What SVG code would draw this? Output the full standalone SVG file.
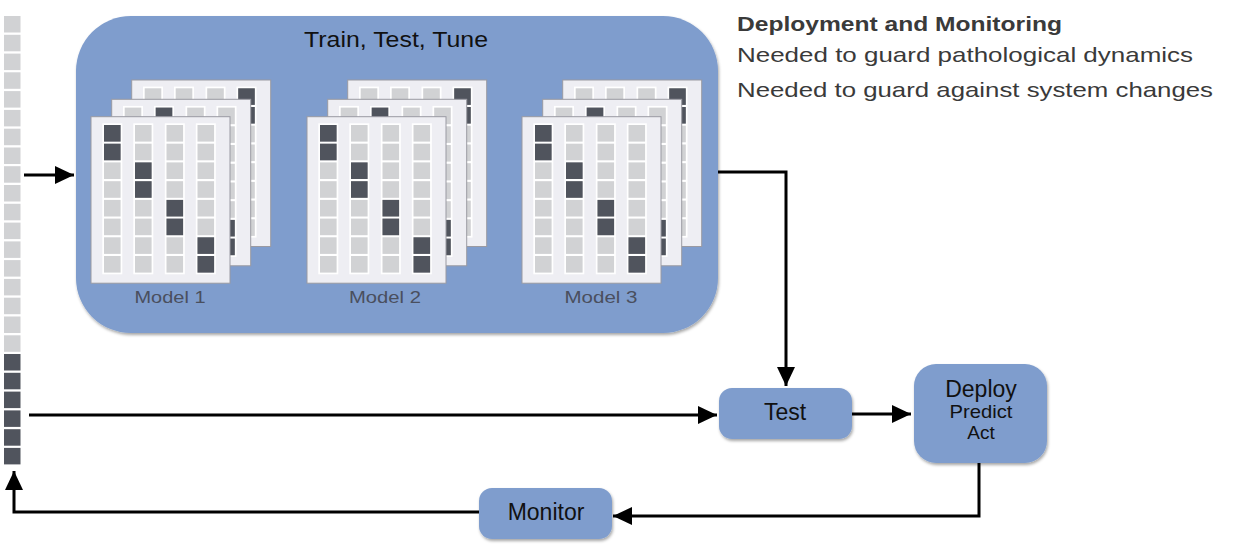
<svg xmlns="http://www.w3.org/2000/svg" xmlns:xlink="http://www.w3.org/1999/xlink" width="1233" height="550" viewBox="0 0 1233 550">
<style>
.box{fill:#7F9DCD;}
.card{fill:#EEEEF3;stroke:#9A9AA2;stroke-width:1;}
.col{fill:#FFFFFF;}
.cg{fill:#D1D2D4;}
.cd{fill:#50545D;}
.conn{fill:none;stroke:#000;stroke-width:3;}
.t{font-family:"Liberation Sans",Arial,sans-serif;fill:#111;}
.lbl{font-family:"Liberation Sans",Arial,sans-serif;fill:#4A4F5E;font-size:17px;}
.side{font-family:"Liberation Sans",Arial,sans-serif;fill:#3A3A3A;font-size:21px;}
</style>
<defs>
<filter id="sh" x="-10%" y="-10%" width="120%" height="130%">
<feDropShadow dx="1" dy="2" stdDeviation="1.5" flood-color="#000" flood-opacity="0.35"/>
</filter>
<marker id="ah" markerUnits="userSpaceOnUse" markerWidth="20" markerHeight="20" refX="19" refY="9" orient="auto">
<path d="M0,0 L19,9 L0,18 z" fill="#000"/>
</marker>
<g id="grid">
<rect class="card" x="0" y="0" width="139" height="166.5"/>
<rect class="col" x="11.3" y="6.6" width="20" height="151"/>
<rect class="col" x="42.3" y="6.6" width="20" height="151"/>
<rect class="col" x="73.8" y="6.6" width="20" height="151"/>
<rect class="col" x="104.8" y="6.6" width="20" height="151"/>
<g class="cg">
<rect x="13" y="8.3" width="16.6" height="16.6"/><rect x="44" y="8.3" width="16.6" height="16.6"/><rect x="75.5" y="8.3" width="16.6" height="16.6"/><rect x="106.5" y="8.3" width="16.6" height="16.6"/>
<rect x="13" y="27" width="16.6" height="16.6"/><rect x="44" y="27" width="16.6" height="16.6"/><rect x="75.5" y="27" width="16.6" height="16.6"/><rect x="106.5" y="27" width="16.6" height="16.6"/>
<rect x="13" y="45.7" width="16.6" height="16.6"/><rect x="44" y="45.7" width="16.6" height="16.6"/><rect x="75.5" y="45.7" width="16.6" height="16.6"/><rect x="106.5" y="45.7" width="16.6" height="16.6"/>
<rect x="13" y="64.5" width="16.6" height="16.6"/><rect x="44" y="64.5" width="16.6" height="16.6"/><rect x="75.5" y="64.5" width="16.6" height="16.6"/><rect x="106.5" y="64.5" width="16.6" height="16.6"/>
<rect x="13" y="83.2" width="16.6" height="16.6"/><rect x="44" y="83.2" width="16.6" height="16.6"/><rect x="75.5" y="83.2" width="16.6" height="16.6"/><rect x="106.5" y="83.2" width="16.6" height="16.6"/>
<rect x="13" y="101.9" width="16.6" height="16.6"/><rect x="44" y="101.9" width="16.6" height="16.6"/><rect x="75.5" y="101.9" width="16.6" height="16.6"/><rect x="106.5" y="101.9" width="16.6" height="16.6"/>
<rect x="13" y="120.6" width="16.6" height="16.6"/><rect x="44" y="120.6" width="16.6" height="16.6"/><rect x="75.5" y="120.6" width="16.6" height="16.6"/><rect x="106.5" y="120.6" width="16.6" height="16.6"/>
<rect x="13" y="139.3" width="16.6" height="16.6"/><rect x="44" y="139.3" width="16.6" height="16.6"/><rect x="75.5" y="139.3" width="16.6" height="16.6"/><rect x="106.5" y="139.3" width="16.6" height="16.6"/>
</g>
</g>
<g id="stack">
<g transform="translate(40.7,-36.7)">
<use xlink:href="#grid"/>
<g class="cd">
<rect x="106.5" y="8.3" width="16.6" height="16.6"/><rect x="106.5" y="27" width="16.6" height="16.6"/>
<rect x="13" y="45.7" width="16.6" height="16.6"/><rect x="13" y="64.5" width="16.6" height="16.6"/>
<rect x="44" y="83.2" width="16.6" height="16.6"/><rect x="44" y="101.9" width="16.6" height="16.6"/>
<rect x="75.5" y="120.6" width="16.6" height="16.6"/><rect x="75.5" y="139.3" width="16.6" height="16.6"/>
</g>
</g>
<g transform="translate(20.7,-17.4)">
<use xlink:href="#grid"/>
<g class="cd">
<rect x="44" y="8.3" width="16.6" height="16.6"/><rect x="44" y="27" width="16.6" height="16.6"/>
<rect x="13" y="45.7" width="16.6" height="16.6"/><rect x="13" y="64.5" width="16.6" height="16.6"/>
<rect x="75.5" y="83.2" width="16.6" height="16.6"/><rect x="75.5" y="101.9" width="16.6" height="16.6"/>
<rect x="106.5" y="120.6" width="16.6" height="16.6"/><rect x="106.5" y="139.3" width="16.6" height="16.6"/>
</g>
</g>
<g>
<use xlink:href="#grid"/>
<g class="cd">
<rect x="13" y="8.3" width="16.6" height="16.6"/><rect x="13" y="27" width="16.6" height="16.6"/>
<rect x="44" y="45.7" width="16.6" height="16.6"/><rect x="44" y="64.5" width="16.6" height="16.6"/>
<rect x="75.5" y="83.2" width="16.6" height="16.6"/><rect x="75.5" y="101.9" width="16.6" height="16.6"/>
<rect x="106.5" y="120.6" width="16.6" height="16.6"/><rect x="106.5" y="139.3" width="16.6" height="16.6"/>
</g>
</g>
</g>
</defs>

<g id="data-column">
<g class="cg">
<rect x="4" y="16" width="16.5" height="16.5"/><rect x="4" y="34.8" width="16.5" height="16.5"/><rect x="4" y="53.6" width="16.5" height="16.5"/><rect x="4" y="72.3" width="16.5" height="16.5"/>
<rect x="4" y="91.1" width="16.5" height="16.5"/><rect x="4" y="109.9" width="16.5" height="16.5"/><rect x="4" y="128.7" width="16.5" height="16.5"/><rect x="4" y="147.5" width="16.5" height="16.5"/>
<rect x="4" y="166.2" width="16.5" height="16.5"/><rect x="4" y="185" width="16.5" height="16.5"/><rect x="4" y="203.8" width="16.5" height="16.5"/><rect x="4" y="222.6" width="16.5" height="16.5"/>
<rect x="4" y="241.4" width="16.5" height="16.5"/><rect x="4" y="260.1" width="16.5" height="16.5"/><rect x="4" y="278.9" width="16.5" height="16.5"/><rect x="4" y="297.7" width="16.5" height="16.5"/>
<rect x="4" y="316.5" width="16.5" height="16.5"/><rect x="4" y="335.3" width="16.5" height="16.5"/>
</g>
<g class="cd">
<rect x="4" y="354" width="16.5" height="16.5"/><rect x="4" y="372.8" width="16.5" height="16.5"/><rect x="4" y="391.6" width="16.5" height="16.5"/><rect x="4" y="410.4" width="16.5" height="16.5"/>
<rect x="4" y="429.2" width="16.5" height="16.5"/><rect x="4" y="447.9" width="16.5" height="16.5"/>
</g>
</g>

<g id="train-test-tune">
<rect class="box" x="76" y="16" width="642" height="317" rx="55" ry="55" filter="url(#sh)"/>
<text class="t" x="396" y="47" font-size="22" text-anchor="middle" textLength="184" lengthAdjust="spacingAndGlyphs">Train, Test, Tune</text>
</g>

<g id="model1">
<use xlink:href="#stack" transform="translate(91,116.7)"/>
<text class="lbl" x="170" y="303" text-anchor="middle" textLength="71" lengthAdjust="spacingAndGlyphs">Model 1</text>
</g>
<g id="model2">
<use xlink:href="#stack" transform="translate(307,116.7)"/>
<text class="lbl" x="385" y="303" text-anchor="middle" textLength="72" lengthAdjust="spacingAndGlyphs">Model 2</text>
</g>
<g id="model3">
<use xlink:href="#stack" transform="translate(522,116.7)"/>
<text class="lbl" x="601" y="303" text-anchor="middle" textLength="73" lengthAdjust="spacingAndGlyphs">Model 3</text>
</g>

<g id="test">
<rect class="box" x="719" y="388" width="133" height="51" rx="13" ry="13" filter="url(#sh)"/>
<text class="t" x="785" y="420" font-size="23" text-anchor="middle">Test</text>
</g>

<g id="deploy">
<rect class="box" x="914" y="364" width="133" height="99" rx="22" ry="22" filter="url(#sh)"/>
<text class="t" x="981" y="397" font-size="23" text-anchor="middle">Deploy</text>
<text class="t" x="981" y="418" font-size="19" text-anchor="middle" textLength="63" lengthAdjust="spacingAndGlyphs">Predict</text>
<text class="t" x="981" y="439" font-size="19" text-anchor="middle">Act</text>
</g>

<g id="monitor">
<rect class="box" x="479" y="488" width="133" height="51" rx="13" ry="13" filter="url(#sh)"/>
<text class="t" x="546" y="520" font-size="23" text-anchor="middle">Monitor</text>
</g>

<g id="side-notes">
<text class="side" x="737" y="31" font-weight="bold" font-size="20" textLength="325" lengthAdjust="spacingAndGlyphs">Deployment and Monitoring</text>
<text class="side" x="737" y="62" textLength="456" lengthAdjust="spacingAndGlyphs">Needed to guard pathological dynamics</text>
<text class="side" x="737" y="97" textLength="476" lengthAdjust="spacingAndGlyphs">Needed to guard against system changes</text>
</g>

<g id="connectors">
<path class="conn" d="M24,175 L74,175" marker-end="url(#ah)"/>
<path class="conn" d="M718,172 L786,172 L786,386" marker-end="url(#ah)"/>
<path class="conn" d="M29,415 L717,415" marker-end="url(#ah)"/>
<path class="conn" d="M852,414 L911,414" marker-end="url(#ah)"/>
<path class="conn" d="M979,463 L979,516 L613,516" marker-end="url(#ah)"/>
<path class="conn" d="M479,512 L14,512 L14,471" marker-end="url(#ah)"/>
</g>
</svg>
